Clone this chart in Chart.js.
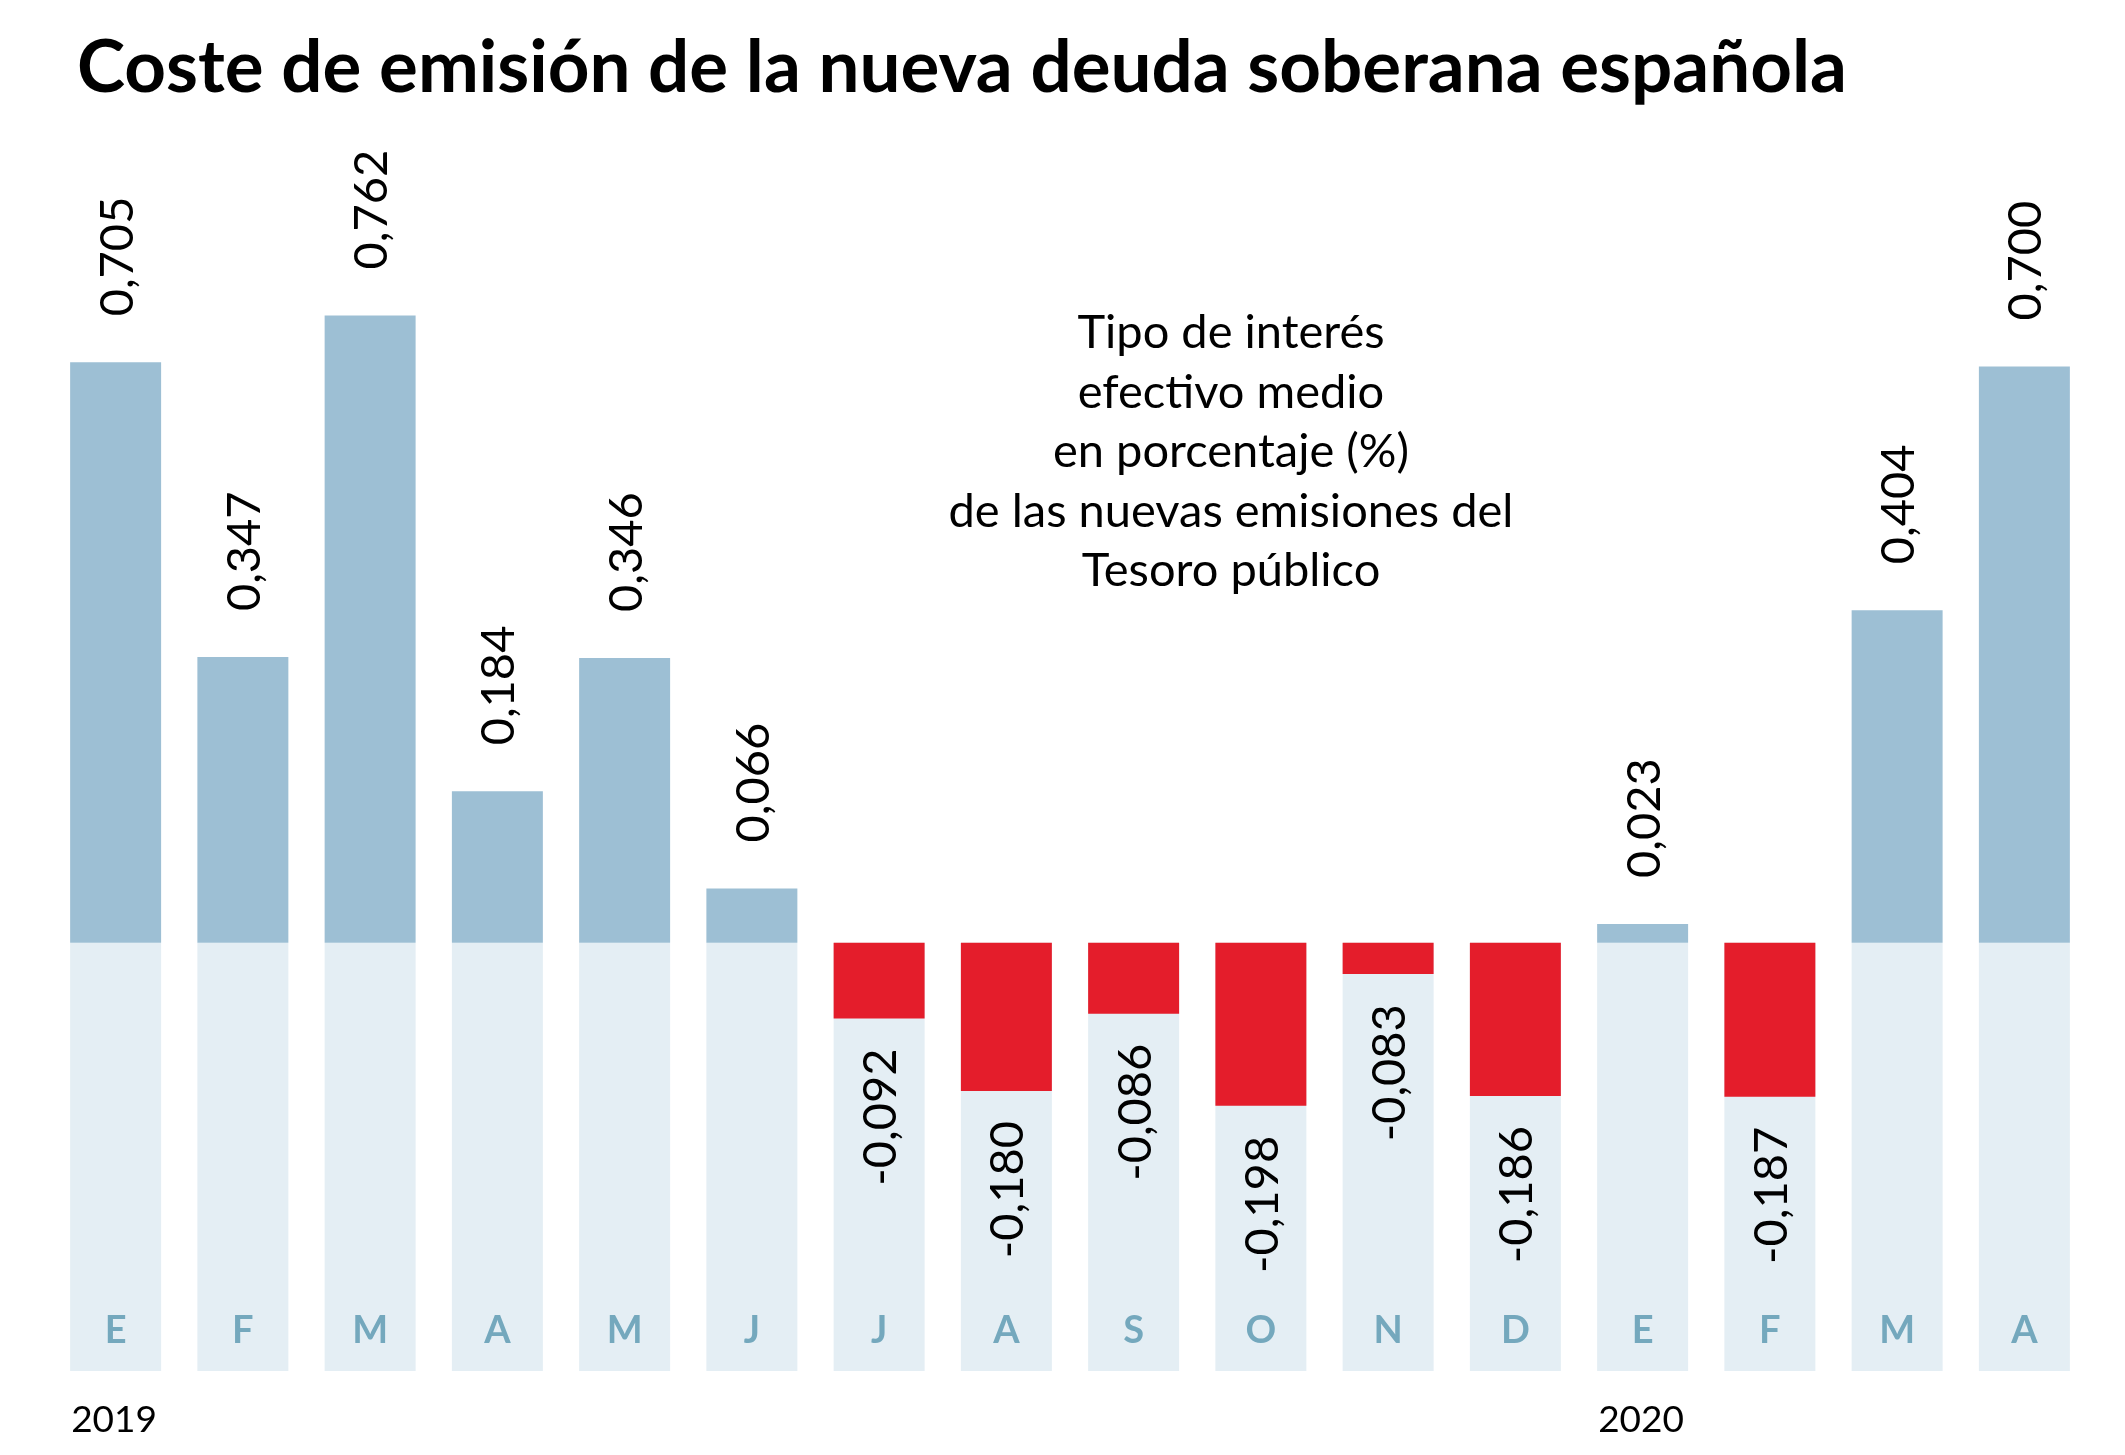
<!DOCTYPE html>
<html>
<head>
<meta charset="utf-8">
<script src="https://cdn.jsdelivr.net/npm/chart.js@4.4.1/dist/chart.umd.min.js"></script>
<style>
  body { margin: 0; background: #fff; }
</style>
</head>
<body>
<canvas id="chartCanvas" width="2125" height="1455"></canvas>
<script>
// Data
const months = ['E', 'F', 'M', 'A', 'M', 'J', 'J', 'A', 'S', 'O', 'N', 'D', 'E', 'F', 'M', 'A'];
const years = ['2019', '', '', '', '', '', '', '', '', '', '', '', '2020', '', '', ''];
// bar lengths as drawn (the N bar is drawn shorter than its printed label)
const rates = [0.705, 0.347, 0.762, 0.184, 0.346, 0.066, -0.092, -0.180, -0.086, -0.198, -0.038, -0.186, 0.023, -0.187, 0.404, 0.700];
// printed value labels
const valueLabels = ['0,705', '0,347', '0,762', '0,184', '0,346', '0,066', '-0,092', '-0,180', '-0,086', '-0,198', '-0,083', '-0,186', '0,023', '-0,187', '0,404', '0,700'];

const title = 'Coste de emisión de la nueva deuda soberana española';
const note = ['Tipo de interés', 'efectivo medio', 'en porcentaje (%)', 'de las nuevas emisiones del', 'Tesoro público'];

// Axis range (the light columns run down to the bottom of the scale)
const yMin = -0.52;
const yMax = 0.975;
const background = months.map(() => yMin);

const posColor = '#9dbfd4';
const negColor = '#e41d2b';
const bgColor = '#e4eef4';
const monthColor = '#74a8bd';

// Draws the title, note, value labels, month and year labels
const textPlugin = {
    id: 'texts',
    afterDatasetsDraw(chart) {
        const ctx = chart.ctx;
        const x = chart.scales.x;
        const meta = chart.getDatasetMeta(1);
        ctx.save();

        // title
        ctx.fillStyle = '#000';
        ctx.font = 'bold 73px Lato';
        ctx.textAlign = 'left';
        ctx.textBaseline = 'alphabetic';
        ctx.fillText(title, 77, 92, 1770);

        // note in the middle
        ctx.font = '47px Lato';
        ctx.textAlign = 'center';
        note.forEach((line, i) => {
            ctx.fillText(line, 1231, 348 + i * 59.5);
        });

        // value labels, rotated
        ctx.font = '47px Lato';
        meta.data.forEach((bar, i) => {
            const v = rates[i];
            ctx.save();
            ctx.translate(bar.x + 17, v >= 0 ? bar.y - 46 : bar.y + 30);
            ctx.rotate(-Math.PI / 2);
            ctx.textAlign = v >= 0 ? 'left' : 'right';
            ctx.textBaseline = 'alphabetic';
            ctx.fillText(valueLabels[i], 0, 0);
            ctx.restore();
        });

        // month labels inside the columns
        ctx.font = 'bold 38px Lato';
        ctx.fillStyle = monthColor;
        ctx.textAlign = 'center';
        months.forEach((m, i) => {
            ctx.fillText(m, x.getPixelForValue(i), 1343);
        });

        // year labels under the first month of each year
        ctx.font = '37px Lato';
        ctx.fillStyle = '#000';
        ctx.textAlign = 'left';
        const halfBar = meta.data[0].width / 2;
        years.forEach((y, i) => {
            if (y) ctx.fillText(y, x.getPixelForValue(i) - halfBar + 1, 1432);
        });

        ctx.restore();
    }
};

function draw() {
    const ctx = document.getElementById('chartCanvas');
    new Chart(ctx, {
        type: 'bar',
        data: {
            labels: months,
            datasets: [{
                label: 'fondo',
                data: background,
                backgroundColor: bgColor,
                grouped: false,
                order: 2,
            }, {
                label: 'Tipo de interés efectivo medio (%)',
                data: rates,
                backgroundColor: rates.map(v => v >= 0 ? posColor : negColor),
                grouped: false,
                order: 1,
            }]
        },
        options: {
            responsive: false,
            animation: false,
            devicePixelRatio: 1,
            layout: {
                padding: { left: 52, right: 37, top: 140, bottom: 84 }
            },
            datasets: {
                bar: {
                    categoryPercentage: 1,
                    barPercentage: 0.715,
                    borderWidth: 0,
                }
            },
            scales: {
                x: { display: false },
                y: { display: false, min: yMin, max: yMax }
            },
            plugins: {
                legend: { display: false },
                tooltip: { enabled: false },
                title: { display: false }
            }
        },
        plugins: [textPlugin]
    });
}

Promise.all([
    document.fonts.load('bold 73px Lato'),
    document.fonts.load('47px Lato')
]).then(draw, draw);
</script>
</body>
</html>
